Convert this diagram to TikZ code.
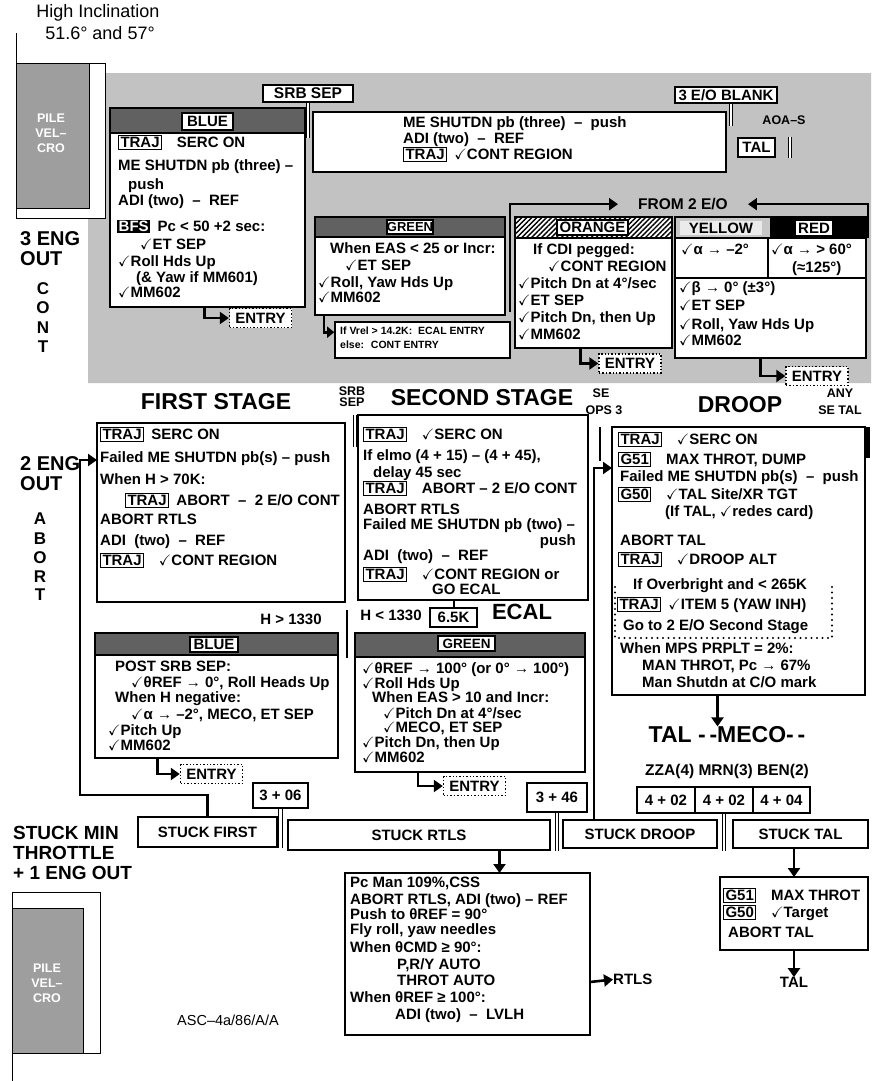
\documentclass[tikz,border=0pt]{standalone}
\usepackage{fontspec}
\setmainfont{Liberation Sans}
\usepackage{amssymb}
\usetikzlibrary{arrows.meta,fit,patterns.meta}
\newcounter{tn}
\newcommand\ck{\ensuremath{\checkmark}}
\newcommand\bx[1]{{\fboxsep=1.2pt\fboxrule=1.1pt\fbox{#1}}}
\newcommand\bk[1]{{\fboxsep=1.5pt\colorbox{black}{\textcolor{white}{#1}}}}
\newcommand\TX[3][]{\stepcounter{tn}\node[txt,#1] (t\arabic{tn}) at (#2) {#3};}
\newcommand\LB[7][]{\node[lab,minimum width={(#5-#3)*1pt},minimum height={(#6-#4)*1pt},#1] (#2) at ({(#3+#5)/2},{(#4+#6)/2}) {#7};}
\newcommand\HDR[6]{\fill[#6] (#2,#3) rectangle (#4,#5);
  \draw[line width=2.4pt] (#1.north west) rectangle (#1.south east);
  \draw[line width=1.6pt] (#2,#5) -- (#4,#5);}
\begin{document}
\begin{tikzpicture}[x=1pt,y=-1pt,
 txt/.style={anchor=mid west,inner sep=0pt,font=\bfseries\fontsize{15}{15}\selectfont},
 sm/.style={font=\bfseries\fontsize{10.5}{11}\selectfont},
 big/.style={anchor=mid west,inner sep=0pt,font=\bfseries\fontsize{20}{20}\selectfont},
 ltr/.style={anchor=mid,inner sep=0pt,font=\bfseries\fontsize{17}{17}\selectfont},
 ttl/.style={anchor=mid,inner sep=0pt,font=\bfseries\fontsize{23}{23}\selectfont},
 mini/.style={anchor=mid,inner sep=0pt,font=\bfseries\fontsize{12.5}{13}\selectfont},
 mid15/.style={anchor=mid,inner sep=0pt,font=\bfseries\fontsize{15}{15}\selectfont},
 box/.style={draw,line width=2.4pt,fill=white,inner sep=0pt,outer sep=0pt},
 lab/.style={draw,line width=1.8pt,fill=white,inner sep=0pt,font=\bfseries\fontsize{15}{15}\selectfont},
 ent/.style={draw,dotted,line width=1.4pt,fill=white,inner sep=0pt,minimum width=62pt,minimum height=19pt,font=\bfseries\fontsize{15}{15}\selectfont},
 arr/.style={line width=2.6pt,-{Triangle[length=9pt,width=12pt]}},
 dbl/.style={double,double distance=2.2pt,line width=1.3pt},
 bar/.style={line width=2.6pt},
 hd/.style={fill=black!62},
 orh/.style={pattern={Lines[angle=45,distance=3.5pt,line width=1.4pt]}},
 bg/.style={fill=black!24},
 pilef/.style={fill=black!38,draw,line width=0.8pt,inner sep=0pt},
 pilet/.style={align=center,inner sep=0pt,text=white,font=\bfseries\fontsize{12.5}{15}\selectfont},
 dots/.style={line width=2.4pt,line cap=round,dash pattern=on 0pt off 5.5pt}
]
\path[use as bounding box] (0,0) rectangle (871,1081);
% background stipple region
\fill[bg] (105,73) -- (871,73) -- (871,383) -- (88,383) -- (88,218) -- (105,218) -- cycle;

% top-left
\node[anchor=mid,inner sep=0pt,font=\fontsize{18}{18}\selectfont] (hi1) at (98,15) {High Inclination};
\node[anchor=mid,inner sep=0pt,font=\fontsize{18}{18}\selectfont] (hi2) at (100,37) {51.6° and 57°};
\node[draw,line width=0.8pt,fill=white,inner sep=0pt,outer sep=0pt,fit={(16,63)(105,218)}] (pile1) {};
\node[pilef,fit={(16,63)(89,208)}] (pile1i) {};
\node[pilet] (pile1t) at (51,133) {PILE\\VEL–\\CRO};
\draw[line width=0.8pt] (pile1.north west) -- ++(0,-30);

% left labels (3 ENG OUT CONT)
\node[big] (e3a) at (20,243) {3 ENG};
\node[big] (e3b) at (20,263) {OUT};
\node[ltr] (c1) at (43,292) {C};
\node[ltr] (c2) at (43,311) {O};
\node[ltr] (c3) at (43,331) {N};
\node[ltr] (c4) at (43,350) {T};

% SRB SEP, 3 E/O BLANK, TAL
\LB[font=\bfseries\fontsize{15.5}{16}\selectfont]{srb}{263}{85}{353}{102}{SRB SEP}
\draw[dbl] (srb.south) -- ++(0,35);
\LB{blank}{675}{87}{777}{103}{3 E/O BLANK}
\draw[dbl] ([xshift=5pt]blank.south) -- ++(0,22);
\node[mini] (aoa) at (784,122) {AOA–S};
\LB{tal1}{738}{138}{775}{157}{TAL}
\draw[dbl] ([xshift=14pt]tal1.north east) -- ([xshift=14pt]tal1.south east);

% Blue (3 E/O)
\node[box,fit={(110,108)(305,307)}] (bl3) {};
\HDR{bl3}{110}{108}{305}{133}{hd}
\LB{bl3l}{182}{113}{233}{130}{BLUE}
\TX{118,145}{\bx{TRAJ}\quad SERC ON}
\TX{118,168}{ME SHUTDN pb (three) –}
\TX{128,187}{push}
\TX{118,203}{ADI (two) ~–~ REF}
\TX{117,229}{\bk{BFS}\enspace Pc < 50 +2 sec:}
\TX{140,247}{\ck ET SEP}
\TX{118,264}{\ck Roll Hds Up}
\TX{136,280}{(\& Yaw if MM601)}
\TX{118,295}{\ck MM602}
\node[ent] (e1) at (260.5,318) {ENTRY};
\draw[arr] ([xshift=-3pt]bl3.south) |- (e1.west);

% ME SHUTDN box
\node[box,fit={(313,112)(726,172)}] (ms) {};
\TX{403,125}{ME SHUTDN pb (three) ~–~ push}
\TX{403,141}{ADI (two) ~–~ REF}
\TX{403,157}{\bx{TRAJ}\enspace\ck CONT REGION}

% Green (3 E/O)
\node[box,fit={(315,217)(505,315)}] (g3) {};
\HDR{g3}{315}{217}{505}{237}{hd}
\LB[font=\bfseries\fontsize{13}{13}\selectfont]{g3l}{387}{220}{433}{234}{GREEN}
\TX{330,251}{When EAS < 25 or Incr:}
\TX{345,268}{\ck ET SEP}
\TX{318,285}{\ck Roll, Yaw Hds Up}
\TX{318,300}{\ck MM602}
\node[draw,line width=1.6pt,fill=white,inner sep=0pt,fit={(335,322)(510,358)}] (vr) {};
\TX[sm]{340,332}{If Vrel > 14.2K:~ ECAL ENTRY}
\TX[sm]{340,346}{else:~ CONT ENTRY}
\draw[line width=2.6pt,-{Triangle[length=7pt,width=11pt]}] ([xshift=9pt]g3.south west) |- ([yshift=-11pt]vr.north west);

% FROM 2 E/O
\node[mid15,font=\bfseries\fontsize{15.5}{16}\selectfont] (from) at (683,207) {FROM 2 E/O};
\coordinate (fa) at (510,312);
\coordinate (fb) at (868,238);
\draw[arr,shorten >=20pt] (fa) |- (from.west);
\draw[arr,shorten >=20pt] (fb) |- (from.east);

% Orange
\node[box,fit={(515,217)(672,348)}] (orb) {};
\HDR{orb}{515}{217}{672}{238}{orh}
\LB{orl}{557}{220}{628}{235}{ORANGE}
\TX{533,252}{If CDI pegged:}
\TX{548,269}{\ck CONT REGION}
\TX{518,286}{\ck Pitch Dn at 4°/sec}
\TX{518,303}{\ck ET SEP}
\TX{518,320}{\ck Pitch Dn, then Up}
\TX{518,337}{\ck MM602}
\node[ent] (e2) at (630,363.5) {ENTRY};
\draw[arr] ([xshift=-13pt]orb.south) |- (e2.west);

% Yellow / Red
\node[box,fit={(675,217)(866,358)}] (yr) {};
\fill[black!22] (675,217) rectangle (770,238);
\fill[black] (770,217) rectangle (866,238);
\draw[line width=2.4pt] (yr.north west) rectangle (yr.south east);
\draw[line width=1.6pt] (675,238) -- (866,238);
\draw[line width=1.6pt] (768,238) -- (768,278);
\draw[line width=1.6pt] (675,278) -- (866,278);
\LB[draw=none,fill=black!8]{yl}{680}{221}{762}{235}{YELLOW}
\LB{rl}{795}{220}{833}{236}{RED}
\TX{681,252}{\ck α → –2°}
\TX{771,252}{\ck α → > 60°}
\TX{792,270}{(≈125°)}
\TX{679,290}{\ck β → 0° (±3°)}
\TX{679,308}{\ck ET SEP}
\TX{679,327}{\ck Roll, Yaw Hds Up}
\TX{679,343}{\ck MM602}
\node[ent] (e3) at (817,376) {ENTRY};
\draw[arr] ([xshift=-10pt]yr.south) |- (e3.west);

% titles middle
\node[ttl] (fst) at (216,407) {FIRST STAGE};
\node[mini] (srbA) at (352,393) {SRB};
\node[mini] (srbB) at (352,404) {SEP};
\node[ttl] (sst) at (482,403) {SECOND STAGE};
\node[mini] (seA) at (601,395) {SE};
\node[mini] (seB) at (604,412) {OPS 3};
\node[ttl] (drt) at (740,410) {DROOP};
\node[mini] (anyA) at (840,395) {ANY};
\node[mini] (anyB) at (840,412) {SE TAL};

% First stage
\node[box,fit={(97,423)(345,602)}] (fs) {};
\TX{100,437}{\bx{TRAJ}\enspace SERC ON}
\TX{100,460}{Failed ME SHUTDN pb(s) – push}
\TX{100,482}{When H > 70K:}
\TX{125,503}{\bx{TRAJ}\enspace ABORT ~–~ 2 E/O CONT}
\TX{100,522}{ABORT RTLS}
\TX{100,543}{ADI ~(two) ~–~ REF}
\TX{100,563}{\bx{TRAJ}\quad\ck CONT REGION}
\node[big] (e2a) at (20,468) {2 ENG};
\node[big] (e2b) at (20,488) {OUT};
\node[ltr] (a1) at (40,522) {A};
\node[ltr] (a2) at (40,542) {B};
\node[ltr] (a3) at (40,561) {O};
\node[ltr] (a4) at (40,580) {R};
\node[ltr] (a5) at (40,598) {T};
\node[mid15] (h1) at (291,622) {H > 1330};

% Second stage
\node[box,fit={(358,415)(588,600)}] (ss) {};
\TX{363,437}{\bx{TRAJ}\quad\ck SERC ON}
\TX{363,458}{If elmo (4 + 15) – (4 + 45),}
\TX{373,475}{delay 45 sec}
\TX{363,491}{\bx{TRAJ}\quad ABORT – 2 E/O CONT}
\TX{363,512}{ABORT RTLS}
\TX{363,527}{Failed ME SHUTDN pb (two) –}
\TX[anchor=mid east]{576,543}{push}
\TX{363,558}{ADI ~(two) ~–~ REF}
\TX{363,577}{\bx{TRAJ}\quad\ck CONT REGION or}
\TX{432,592}{GO ECAL}
\draw[dbl] ([xshift=-3pt]ss.north west) -- ++(0,32);
\LB{k65}{430}{608}{477}{627}{6.5K}
\draw[line width=2pt] (k65.north |- ss.south) -- (k65.north);
\node[mid15] (h2) at (391,618) {H < 1330};
\node[ttl,font=\bfseries\fontsize{22}{22}\selectfont] (ecal) at (522,617) {ECAL};

% Droop
\node[box,fit={(612,427)(865,695)}] (dr) {};
\TX{618,442}{\bx{TRAJ}\quad\ck SERC ON}
\TX{618,462}{\bx{G51}\quad MAX THROT, DUMP}
\TX{620,479}{Failed ME SHUTDN pb(s) ~–~ push}
\TX{618,497}{\bx{G50}\quad\ck TAL Site/XR TGT}
\TX{665,514}{(If TAL, \ck redes card)}
\TX{620,543}{ABORT TAL}
\TX{618,562}{\bx{TRAJ}\quad\ck DROOP ALT}
\TX{633,587}{If Overbright and < 265K}
\TX{617,607}{\bx{TRAJ}\enspace\ck ITEM 5 (YAW INH)}
\TX{623,628}{Go to 2 E/O Second Stage}
\draw[dots] (615,587) -- (615,638) -- (832,638) -- (832,587);
\TX{620,651}{When MPS PRPLT = 2\%:}
\TX{642,668}{MAN THROT, Pc → 67\%}
\TX{642,685}{Man Shutdn at C/O mark}
\draw[line width=3.2pt] ([xshift=3pt]dr.north east) -- ++(0,31);
\draw[bar] ([xshift=-12pt]dr.north west) -- ++(0,34);

% Blue (2 E/O)
\node[box,fit={(95,633)(338,758)}] (b2) {};
\HDR{b2}{95}{633}{338}{655}{hd}
\LB{b2l}{190}{637}{238}{652}{BLUE}
\TX{115,669}{POST SRB SEP:}
\TX{131,685}{\ck θREF → 0°, Roll Heads Up}
\TX{115,700}{When H negative:}
\TX{131,717}{\ck α → –2°, MECO, ET SEP}
\TX{108,733}{\ck Pitch Up}
\TX{108,748}{\ck MM602}
\node[ent] (e4) at (211.5,774) {ENTRY};
\draw[arr] ([xshift=-59pt]b2.south) |- (e4.west);
\draw[bar] ([xshift=9pt]b2.north east) ++(0,-23) -- ++(0,48);

% Green (ECAL)
\node[box,fit={(355,633)(585,772)}] (ge) {};
\HDR{ge}{355}{633}{585}{657}{hd}
\LB[font=\bfseries\fontsize{13.5}{14}\selectfont]{gel}{438}{636}{495}{651}{GREEN}
\TX{362,671}{\ck θREF → 100° (or 0° → 100°)}
\TX{362,686}{\ck Roll Hds Up}
\TX{372,700}{When EAS > 10 and Incr:}
\TX{383,716}{\ck Pitch Dn at 4°/sec}
\TX{383,730}{\ck MECO, ET SEP}
\TX{362,745}{\ck Pitch Dn, then Up}
\TX{362,760}{\ck MM602}
\node[ent] (e5) at (474.5,786) {ENTRY};
\draw[arr] ([xshift=-52pt]ge.south) |- (e5.west);

% TAL MECO
\node[ttl] (meco) at (727,740) {TAL -\,-MECO-\,-};
\coordinate (da) at ([xshift=-21pt]dr.south);
\draw[arr] (da) -- (da |- meco.north);
\node[mid15,font=\bfseries\fontsize{15.5}{16}\selectfont] (zza) at (727,773) {ZZA(4) MRN(3) BEN(2)};
\LB[line width=2pt]{m1}{637}{787}{695}{813}{4 + 02}
\LB[line width=2pt]{m2}{695}{787}{753}{813}{4 + 02}
\LB[line width=2pt]{m3}{753}{787}{810}{813}{4 + 04}

% time boxes and stuck boxes
\LB[line width=2pt]{b306}{253}{783}{308}{808}{3 + 06}
\LB[line width=2pt]{b346}{527}{783}{587}{812}{3 + 46}
\LB[line width=2.2pt]{sf}{138}{817}{277}{847}{STUCK FIRST}
\LB[line width=2.2pt]{sr}{288}{820}{550}{850}{STUCK RTLS}
\LB[line width=2.2pt]{sd}{563}{820}{717}{848}{STUCK DROOP}
\LB[line width=2.2pt]{st}{733}{820}{868}{848}{STUCK TAL}
\draw[dbl] (b306.south) -- (b306.south |- sf.south);
\draw[dbl] (b346.south) -- (b346.south |- sr.south);
\draw[dbl] (m2.south) -- (m2.south |- sr.south);
\draw[arr] (sf.north) |- (80,795) |- ([yshift=-37pt]fs.north west);
\coordinate (sdx) at ([xshift=32pt]sd.north west);
\draw[arr] (sdx) |- ([yshift=-41pt]dr.north west);

% bottom left
\node[big,font=\bfseries\fontsize{19}{19}\selectfont] (sm1) at (13,837) {STUCK MIN};
\node[big,font=\bfseries\fontsize{19}{19}\selectfont] (sm2) at (13,857) {THROTTLE};
\node[big,font=\bfseries\fontsize{19}{19}\selectfont] (sm3) at (13,877) {+ 1 ENG OUT};
\node[draw,line width=0.8pt,fill=white,inner sep=0pt,outer sep=0pt,fit={(12,892)(100,1053)}] (pile2) {};
\node[pilef,fit={(12,908)(83,1053)}] (pile2i) {};
\node[pilet] (pile2t) at (47,983) {PILE\\VEL–\\CRO};
\draw[line width=0.8pt] (pile2.south west) -- ++(0,28);
\node[anchor=mid,inner sep=0pt,font=\fontsize{14.5}{15}\selectfont] (asc) at (228,1023) {ASC–4a/86/A/A};

% RTLS procedure
\node[box,fit={(345,873)(590,1035)}] (rp) {};
\TX{350,885}{Pc Man 109\%,CSS}
\TX{350,902}{ABORT RTLS, ADI (two) – REF}
\TX{350,917}{Push to θREF = 90°}
\TX{350,932}{Fly roll, yaw needles}
\TX{350,950}{When θCMD ≥ 90°:}
\TX{397,967}{P,R/Y AUTO}
\TX{397,983}{THROT AUTO}
\TX{350,1000}{When θREF ≥ 100°:}
\TX{395,1017}{ADI (two) ~–~ LVLH}
\coordinate (ra) at ([xshift=32pt]rp.north);
\draw[arr] (ra |- sr.south) -- (ra);
\node[mid15,anchor=mid west] (rtlsT) at (613,982) {RTLS};
\coordinate (rb) at ([yshift=-109pt]rp.north east);
\draw[arr] (rb) -- (rtlsT.west);

% TAL procedure
\node[box,fit={(720,877)(868,950)}] (tp) {};
\TX{723,898}{\bx{G51}\quad MAX THROT}
\TX{723,915}{\bx{G50}\quad\ck Target}
\TX{728,935}{ABORT TAL}
\draw[arr] (tp.north |- st.south) -- (tp.north);
\node[mid15] (talT) at (794,985) {TAL};
\draw[arr] (tp.south) -- (tp.south |- talT.north);
\end{tikzpicture}
\end{document}
